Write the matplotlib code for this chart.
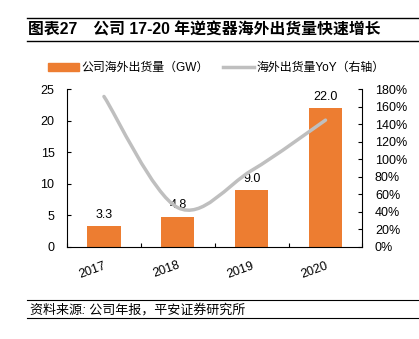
import matplotlib
matplotlib.use("Agg")
import matplotlib.pyplot as plt
from matplotlib.path import Path
from matplotlib.patches import PathPatch, Patch
from matplotlib.lines import Line2D
from matplotlib.ticker import FuncFormatter

plt.rcParams['font.family'] = ['Liberation Sans', 'Noto Sans CJK SC', 'DejaVu Sans']

# data
years = ['2017', '2018', '2019', '2020']
shipments = [3.3, 4.8, 9.0, 22.0]          # GW
yoy = [1.72, 0.45, 0.875, 1.45]            # growth rate

bar_color = '#ED7D31'
line_color = '#BFBFBF'

fig = plt.figure(figsize=(4.19, 3.39), dpi=100)
ax = fig.add_axes([0.160, 0.2714, 0.705, 0.4646])
ax2 = ax.twinx()

x = list(range(len(years)))
ax.bar(x, shipments, width=0.45, color=bar_color, zorder=2)
for xi, v in zip(x, shipments):
    ax.annotate('%.1f' % v, (xi, v), xytext=(0, 4), textcoords='offset points',
                ha='center', va='bottom', fontsize=9)

ax.set_xlim(-0.5, 3.5)
ax.set_ylim(0, 25)
ax.set_yticks([0, 5, 10, 15, 20, 25])
ax.set_xticks([i + 0.5 for i in range(-1, 4)])
ax.set_xticklabels([])
ax.set_xticks(x, minor=True)
ax.set_xticklabels(years, minor=True, rotation=20, fontsize=9,
                   ha='right', va='top', rotation_mode='anchor')
ax.tick_params(axis='x', which='minor', length=0, pad=9)
ax.tick_params(axis='x', which='major', direction='in', length=3)
ax.tick_params(axis='y', direction='in', length=3, labelsize=9, pad=9)
for s in ['top', 'right']:
    ax.spines[s].set_visible(False)

# smooth line (catmull-rom as bezier), drawn on the right axis
pts = list(zip(x, yoy))
pad = [pts[0]] + pts + [pts[-1]]
verts = [pts[0]]
codes = [Path.MOVETO]
for i in range(1, len(pad) - 2):
    p0, p1, p2, p3 = pad[i - 1], pad[i], pad[i + 1], pad[i + 2]
    c1 = (p1[0] + (p2[0] - p0[0]) / 6, p1[1] + (p2[1] - p0[1]) / 6)
    c2 = (p2[0] - (p3[0] - p1[0]) / 6, p2[1] - (p3[1] - p1[1]) / 6)
    verts += [c1, c2, p2]
    codes += [Path.CURVE4] * 3
ax2.add_patch(PathPatch(Path(verts, codes), facecolor='none', edgecolor=line_color,
                        lw=2.5, zorder=3, capstyle='round'))
ax2.set_ylim(0, 1.8)
ax2.set_yticks([i * 0.2 for i in range(10)])
ax2.yaxis.set_major_formatter(FuncFormatter(lambda v, p: '%d%%' % round(v * 100)))
ax2.tick_params(axis='y', direction='in', length=3, labelsize=9, pad=9)
for s in ['top', 'left', 'bottom']:
    ax2.spines[s].set_visible(False)

# legend
handles = [Patch(color=bar_color), Line2D([], [], color=line_color, lw=2.5)]
fig.legend(handles, ['公司海外出货量（GW）', '海外出货量YoY（右轴）'], loc='center',
           bbox_to_anchor=(0.516, 1 - 68 / 339), ncol=2, frameon=False, fontsize=8.6,
           handlelength=2.6, handletextpad=0.2, columnspacing=1.2)

# title and source
fig.add_artist(Line2D([27 / 419, 1], [1 - 18 / 339] * 2, color='black', lw=1))
fig.add_artist(Line2D([27 / 419, 1], [1 - 41 / 339] * 2, color='black', lw=1))
fig.text(28 / 419, 1 - 30 / 339, '图表27　公司 17-20 年逆变器海外出货量快速增长',
         fontsize=11.4, fontweight='bold', va='center', ha='left')
fig.add_artist(Line2D([27 / 419, 1], [1 - 300 / 339] * 2, color='black', lw=0.8))
fig.add_artist(Line2D([27 / 419, 1], [1 - 318 / 339] * 2, color='black', lw=0.8))
fig.text(30 / 419, 1 - 310 / 339, '资料来源: 公司年报，平安证券研究所',
         fontsize=9.4, style='italic', va='center', ha='left')

fig.savefig('out.png', dpi=100)
